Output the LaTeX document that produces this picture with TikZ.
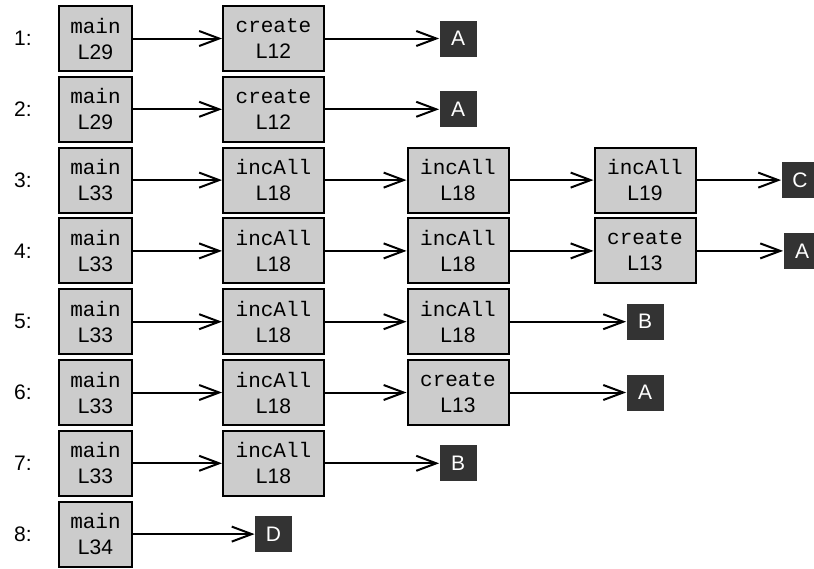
\documentclass[tikz,border=0pt]{standalone}
\usepackage{fontspec}
\setmainfont{Liberation Sans}
\setmonofont{Liberation Mono}
\usetikzlibrary{arrows.meta}
\definecolor{callbg}{gray}{0.8}
\definecolor{leafbg}{gray}{0.2}

\begin{document}
\begin{tikzpicture}[
    x=0.5pt, y=-0.5pt,
    every node/.style={font=\fontsize{10.5}{13}\selectfont},
    rowlbl/.style={anchor=east, inner sep=0pt},
    callbox/.style={draw, line width=1pt, fill=callbg, align=center,
                    minimum height=32.5pt, inner sep=1pt},
    callnarrow/.style={callbox, minimum width=36.5pt},
    callwide/.style={callbox, minimum width=50.5pt},
    leaf/.style={fill=leafbg, text=white, minimum width=18.5pt,
                 minimum height=18pt, inner sep=0pt},
    arr/.style={-{Straight Barb[length=10pt,width=7.5pt]}, line width=1pt},
]
    \useasboundingbox (0,0) rectangle (814,568);

    % Column x-coordinates: 95.5, 273.5, 458, 645, 800
    % Row pitch: 70.8

    % Row 1
    \node[rowlbl]     (l1)  at (32, 38.5)    {1:};
    \node[callnarrow] (r1a) at (95.5, 38.5)  {\texttt{main}\\L29};
    \node[callwide]   (r1b) at (273.5, 38.5) {\texttt{create}\\L12};
    \node[leaf]       (r1t) at (458, 38.5)   {A};

    % Row 2
    \node[rowlbl]     (l2)  at (32, 109.3)    {2:};
    \node[callnarrow] (r2a) at (95.5, 109.3)  {\texttt{main}\\L29};
    \node[callwide]   (r2b) at (273.5, 109.3) {\texttt{create}\\L12};
    \node[leaf]       (r2t) at (458, 109.3)   {A};

    % Row 3
    \node[rowlbl]     (l3)  at (32, 180.1)    {3:};
    \node[callnarrow] (r3a) at (95.5, 180.1)  {\texttt{main}\\L33};
    \node[callwide]   (r3b) at (273.5, 180.1) {\texttt{incAll}\\L18};
    \node[callwide]   (r3c) at (458, 180.1)   {\texttt{incAll}\\L18};
    \node[callwide]   (r3d) at (645, 180.1)   {\texttt{incAll}\\L19};
    \node[leaf]       (r3t) at (800, 180.1)   {C};

    % Row 4
    \node[rowlbl]     (l4)  at (32, 250.9)    {4:};
    \node[callnarrow] (r4a) at (95.5, 250.9)  {\texttt{main}\\L33};
    \node[callwide]   (r4b) at (273.5, 250.9) {\texttt{incAll}\\L18};
    \node[callwide]   (r4c) at (458, 250.9)   {\texttt{incAll}\\L18};
    \node[callwide]   (r4d) at (645, 250.9)   {\texttt{create}\\L13};
    \node[leaf]       (r4t) at (802, 250.9)   {A};

    % Row 5
    \node[rowlbl]     (l5)  at (32, 321.7)    {5:};
    \node[callnarrow] (r5a) at (95.5, 321.7)  {\texttt{main}\\L33};
    \node[callwide]   (r5b) at (273.5, 321.7) {\texttt{incAll}\\L18};
    \node[callwide]   (r5c) at (458, 321.7)   {\texttt{incAll}\\L18};
    \node[leaf]       (r5t) at (645, 321.7)   {B};

    % Row 6
    \node[rowlbl]     (l6)  at (32, 392.5)    {6:};
    \node[callnarrow] (r6a) at (95.5, 392.5)  {\texttt{main}\\L33};
    \node[callwide]   (r6b) at (273.5, 392.5) {\texttt{incAll}\\L18};
    \node[callwide]   (r6c) at (458, 392.5)   {\texttt{create}\\L13};
    \node[leaf]       (r6t) at (645, 392.5)   {A};

    % Row 7
    \node[rowlbl]     (l7)  at (32, 463.3)    {7:};
    \node[callnarrow] (r7a) at (95.5, 463.3)  {\texttt{main}\\L33};
    \node[callwide]   (r7b) at (273.5, 463.3) {\texttt{incAll}\\L18};
    \node[leaf]       (r7t) at (458, 463.3)   {B};

    % Row 8
    \node[rowlbl]     (l8)  at (32, 534.1)    {8:};
    \node[callnarrow] (r8a) at (95.5, 534.1)  {\texttt{main}\\L34};
    \node[leaf]       (r8t) at (273.5, 534.1) {D};

    % Call chains
    \draw[arr] (r1a) -- (r1b);
    \draw[arr] (r1b) -- (r1t);

    \draw[arr] (r2a) -- (r2b);
    \draw[arr] (r2b) -- (r2t);

    \draw[arr] (r3a) -- (r3b);
    \draw[arr] (r3b) -- (r3c);
    \draw[arr] (r3c) -- (r3d);
    \draw[arr] (r3d) -- (r3t);

    \draw[arr] (r4a) -- (r4b);
    \draw[arr] (r4b) -- (r4c);
    \draw[arr] (r4c) -- (r4d);
    \draw[arr] (r4d) -- (r4t);

    \draw[arr] (r5a) -- (r5b);
    \draw[arr] (r5b) -- (r5c);
    \draw[arr] (r5c) -- (r5t);

    \draw[arr] (r6a) -- (r6b);
    \draw[arr] (r6b) -- (r6c);
    \draw[arr] (r6c) -- (r6t);

    \draw[arr] (r7a) -- (r7b);
    \draw[arr] (r7b) -- (r7t);

    \draw[arr] (r8a) -- (r8t);

\end{tikzpicture}
\end{document}
